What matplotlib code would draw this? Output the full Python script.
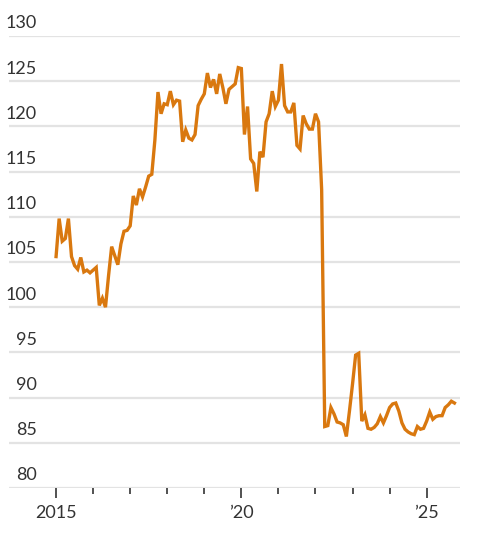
import matplotlib.pyplot as plt
from matplotlib.ticker import FixedLocator

# monthly values, Jan 2015 onward
values = [
    105.6, 109.8, 107.3, 107.6, 109.8, 105.6, 104.6, 104.2, 105.5, 103.9, 104.1, 103.8,
    104.1, 104.4, 100.2, 101.0, 100.0, 103.5, 106.7, 105.7, 104.7, 107.0, 108.4, 108.5,
    109.0, 112.3, 111.3, 113.1, 112.2, 113.3, 114.5, 114.7, 118.5, 123.8, 121.4, 122.5,
    122.4, 123.9, 122.4, 122.9, 122.8, 118.3, 119.6, 118.7, 118.5, 119.1, 122.3, 123.0,
    123.6, 125.9, 124.3, 125.2, 123.6, 125.8, 124.3, 122.5, 124.1, 124.4, 124.7, 126.5,
    126.4, 119.1, 122.2, 116.4, 115.9, 112.8, 117.2, 116.6, 120.5, 121.4, 123.9, 122.2,
    122.9, 126.9, 122.3, 121.6, 121.6, 122.6, 117.9, 117.5, 121.2, 120.3, 119.7, 119.7,
    121.4, 120.5, 113.0, 86.8, 86.9, 88.9, 88.2, 87.3, 87.2, 87.0, 85.7, 88.5,
    91.5, 94.7, 94.9, 87.4, 88.1, 86.6, 86.5, 86.7, 87.1, 87.9, 87.2, 88.0,
    88.9, 89.3, 89.4, 88.5, 87.2, 86.5, 86.2, 86.0, 85.9, 86.8, 86.5, 86.6,
    87.4, 88.4, 87.6, 87.9, 88.0, 88.0, 88.9, 89.2, 89.6, 89.4,
]
dates = [2015 + i / 12 for i in range(len(values))]

y_ticks = [80, 85, 90, 95, 100, 105, 110, 115, 120, 125, 130]
x_major = [2015, 2020, 2025]
x_labels = ["2015", "\u201920", "\u201925"]
x_minor = [2016, 2017, 2018, 2019, 2021, 2022, 2023, 2024]

plt.rcParams['font.family'] = ['Lato', 'DejaVu Sans']

fig = plt.figure(figsize=(4.78, 5.35), dpi=100)
ax = fig.add_axes([9 / 478, 47 / 535, 451 / 478, 452 / 535])

for t in y_ticks:
    ax.axhline(t, color="#e3e3e3", lw=1.6, zorder=1)
    ax.text(0.062, t + 0.5, str(t), transform=ax.get_yaxis_transform(),
            ha="right", va="bottom", fontsize=13, color="#333333")

ax.plot(dates, values, color="#d9780f", lw=2.4, zorder=3, clip_on=False,
        solid_joinstyle="miter")

ax.set_xlim(2013.73, 2025.9)
ax.set_ylim(80, 130)

for s in ax.spines.values():
    s.set_visible(False)
ax.set_yticks([])
ax.xaxis.set_major_locator(FixedLocator(x_major))
ax.set_xticklabels(x_labels)
ax.xaxis.set_minor_locator(FixedLocator(x_minor))
ax.tick_params(axis="x", which="major", length=7, width=1.2, color="#333333",
               labelsize=13, labelcolor="#333333", pad=5)
ax.tick_params(axis="x", which="minor", length=4, width=1.2, color="#333333")

fig.savefig("out.png", dpi=100)
